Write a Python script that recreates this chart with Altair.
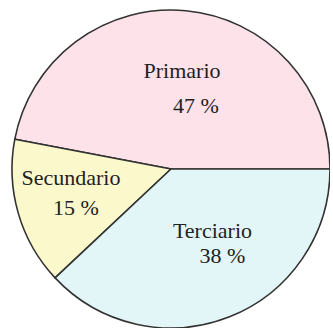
import math
import altair as alt
import pandas as pd

# Sector shares of the economy (percent)
sectors = ["Primario", "Secundario", "Terciario"]
shares = [47, 15, 38]
pct_labels = ["47 %", "15 %", "38 %"]
# clockwise drawing order starting at 3 o'clock
draw_order = [2, 1, 0]

df = pd.DataFrame({
    "sector": sectors,
    "share": shares,
    "pct": pct_labels,
    "k": draw_order,
})

colors = ["#fde2ea", "#fbf8cc", "#e3f6f7"]

theta_scale = alt.Scale(domain=[0, 100], range=[math.pi / 2, math.pi / 2 + 2 * math.pi])

base = alt.Chart(df).encode(
    theta=alt.Theta("share:Q", stack=True, scale=theta_scale),
    order=alt.Order("k:Q"),
)

pie = base.mark_arc(outerRadius=159, stroke="#333333", strokeWidth=1.6).encode(
    color=alt.Color("sector:N", scale=alt.Scale(domain=sectors, range=colors), legend=None)
)

# label placement per sector: radius, name offset, percent offset
placement = {
    "Primario": (85, 3, -13, 17, 22),
    "Secundario": (100, -4, -19, 1, 11),
    "Terciario": (80, 12, -12, 22, 13),
}

text_style = dict(font="Liberation Serif", fontSize=22, color="#222222",
                  align="center", baseline="middle")

layers = [pie]
for name, (r, ndx, ndy, pdx, pdy) in placement.items():
    sel = alt.datum.sector == name
    layers.append(
        base.mark_text(radius=r, dx=ndx, dy=ndy, **text_style).encode(
            text=alt.condition(sel, "sector:N", alt.value(""))
        )
    )
    layers.append(
        base.mark_text(radius=r, dx=pdx, dy=pdy, **text_style).encode(
            text=alt.condition(sel, "pct:N", alt.value(""))
        )
    )

chart = alt.layer(*layers).properties(
    width=318,
    height=318,
    padding={"left": 12, "top": 10, "right": 0, "bottom": 0},
    autosize=alt.AutoSizeParams(type="none"),
    background="white",
).configure_view(stroke=None)

chart.save("out.html", embed_options={"renderer": "svg", "actions": False})
